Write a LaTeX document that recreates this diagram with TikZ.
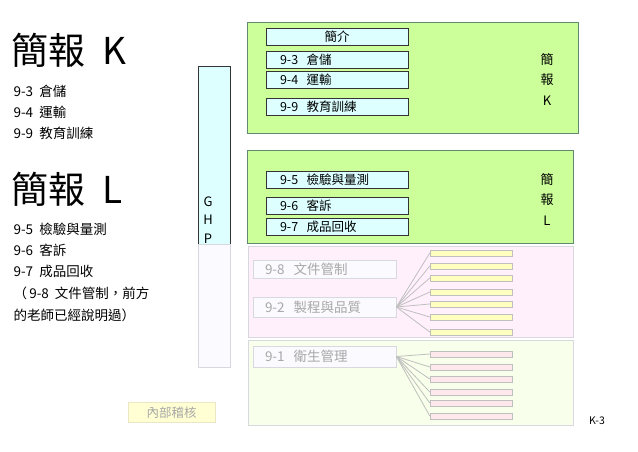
\documentclass[tikz,border=0pt]{standalone}
\usepackage{fontspec}
\setmainfont{Noto Sans CJK TC}
\usetikzlibrary{positioning}

\definecolor{panelgreen}{HTML}{CCFF99}
\definecolor{paneledge}{HTML}{5F8A70}
\definecolor{boxcyan}{HTML}{DDFFFF}
\definecolor{fadepink}{HTML}{FFF0FC}
\definecolor{fadegreen}{HTML}{F8FFEA}
\definecolor{fadeedge}{HTML}{D8D8E0}
\definecolor{fadetext}{HTML}{A8A8A8}
\definecolor{baryellow}{HTML}{FFFFC0}
\definecolor{barpink}{HTML}{FFE8EC}

\tikzset{
  panel/.style={draw=paneledge, thick, fill=panelgreen, minimum width=#1, inner sep=0pt},
  topicbox/.style={draw=black!80, thick, fill=boxcyan, minimum width=142, minimum height=17,
    text width=114, align=left, inner sep=0pt, font=\fontsize{12.5}{13}\selectfont},
  fadepanel/.style={draw=fadeedge, fill=#1, minimum width=325, inner sep=0pt},
  fadebox/.style={draw=fadeedge, thick, fill=blue!2, minimum width=143, text width=119,
    align=left, inner sep=0pt, text=fadetext, font=\fontsize{13.5}{14}\selectfont},
  subbar/.style={draw=black!25, fill=#1, minimum width=82, minimum height=6, inner sep=0pt},
  sidetag/.style={align=center, font=\fontsize{13}{20.5}\selectfont},
  bigtitle/.style={anchor=west, font=\fontsize{37}{38}\selectfont},
  itemtext/.style={anchor=west, font=\fontsize{13.5}{15}\selectfont},
  fanline/.style={draw=black!25, thick}
}

\begin{document}
\begin{tikzpicture}[x=1pt, y=-1pt]
        \useasboundingbox (0,0) rectangle (638,452);

        % Panels
        \node[panel=331, minimum height=111] (panelK) at (412.5,77.5) {};
        \node[panel=326, minimum height=93] (panelL) at (410,196.5) {};
        \node[fadepanel=fadepink, minimum height=91] (panelQ) at (410.5,291.5) {};
        \node[fadepanel=fadegreen, minimum height=85] (panelH) at (410.5,382.5) {};

        % GHP bar
        \node[draw=black!80, thick, fill=boxcyan, minimum width=32, minimum height=178, inner sep=0pt] (ghp) at (214,155) {};
        \node[draw=fadeedge, fill=blue!2, minimum width=32, minimum height=123, inner sep=0pt] (ghpfade) at (214,305.5) {};
        \node[sidetag, font=\fontsize{13}{18.5}\selectfont, anchor=south] (ghptext) at (208,247) {G\\H\\P};

        % Topics of K
        \node[topicbox, align=center] (intro) at (337,37) {簡介};
        \node[topicbox] (t93) at (337,59.5) {9-3\ \ 倉儲};
        \node[topicbox] (t94) at (337,80) {9-4\ \ 運輸};
        \node[topicbox] (t99) at (337,106.5) {9-9\ \ 教育訓練};
        \node[sidetag] (tagK) at (547,79) {簡\\報\\K};

        % Topics of L
        \node[topicbox] (t95) at (337,179.5) {9-5\ \ 檢驗與量測};
        \node[topicbox] (t96) at (337,205.5) {9-6\ \ 客訴};
        \node[topicbox] (t97) at (337,227) {9-7\ \ 成品回收};
        \node[sidetag] (tagL) at (547,199) {簡\\報\\L};

        % Faded topics
        \node[fadebox, minimum height=18] (t98) at (324.5,269) {9-8\ \ 文件管制};
        \node[fadebox, minimum height=20] (t92) at (324.5,307) {9-2\ \ 製程與品質};
        \node[fadebox, minimum height=21] (t91) at (324.5,356.5) {9-1\ \ 衛生管理};

        % Sub-items
        \foreach \y [count=\i] in {253,266,278,292,304,317,332}
          \node[subbar=baryellow] (y\i) at (471,\y) {};
        \foreach \y [count=\i] in {354,367,379,392,403,416}
          \node[subbar=barpink] (p\i) at (471,\y) {};

        % Edges
        \foreach \i in {1,...,7}
          \draw[fanline] (t92.east) -- (y\i.west);
        \foreach \i in {1,...,6}
          \draw[fanline] (t91.east) -- (p\i.west);

        % Labels
        \node[bigtitle] (titleK) at (8,50) {簡報\hspace{0.45em}K};
        \node[itemtext] (k1) at (10,91) {9-3\ \ 倉儲};
        \node[itemtext] (k2) at (10,112) {9-4\ \ 運輸};
        \node[itemtext] (k3) at (10,133) {9-9\ \ 教育訓練};
        \node[bigtitle] (titleL) at (8,189) {簡報\hspace{0.45em}L};
        \node[itemtext] (l1) at (10,229) {9-5\ \ 檢驗與量測};
        \node[itemtext] (l2) at (10,250) {9-6\ \ 客訴};
        \node[itemtext] (l3) at (10,271) {9-7\ \ 成品回收};
        \node[itemtext] (l4) at (10,293) {（\,9-8\ \ 文件管制，前方};
        \node[itemtext] (l5) at (10,315) {的老師已經說明過）};

        \node[draw=yellow!60!black!25, fill=baryellow!70, minimum width=87, minimum height=20, inner sep=0pt,
          text=fadetext, font=\fontsize{12.5}{13}\selectfont] (audit) at (171.5,412.5) {內部稽核};
        \node[font=\fontsize{10.5}{12}\selectfont] (page) at (597,421) {K-3};
\end{tikzpicture}
\end{document}
